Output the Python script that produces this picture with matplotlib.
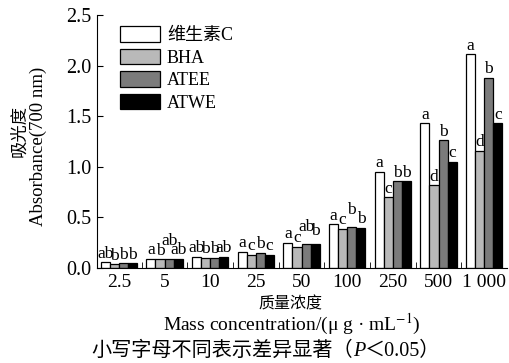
import numpy as np
import matplotlib
matplotlib.use("Agg")
import matplotlib.pyplot as plt
from matplotlib.patches import Patch

plt.rcParams['font.family'] = ['Liberation Serif', 'Noto Sans CJK SC']
plt.rcParams['mathtext.fontset'] = 'stix'

# datos
conc = ['2.5', '5', '10', '25', '50', '100', '250', '500', '1 000']
series = ['维生素C', 'BHA', 'ATEE', 'ATWE']
vitc = [0.06, 0.09, 0.11, 0.16, 0.25, 0.43, 0.95, 1.43, 2.11]
bha = [0.04, 0.085, 0.10, 0.13, 0.21, 0.39, 0.70, 0.82, 1.16]
atee = [0.05, 0.09, 0.10, 0.15, 0.24, 0.41, 0.86, 1.26, 1.88]
atwe = [0.05, 0.09, 0.11, 0.13, 0.24, 0.40, 0.86, 1.05, 1.43]
letras = [
    ['ab', 'b', 'b', 'b'],
    ['a', 'b', 'ab', 'ab'],
    ['ab', 'b', 'b', 'ab'],
    ['a', 'c', 'b', 'c'],
    ['a', 'c', 'ab', 'b'],
    ['a', 'c', 'b', 'b'],
    ['a', 'c', 'b', 'b'],
    ['a', 'd', 'b', 'c'],
    ['a', 'd', 'b', 'c'],
]

colores = ['white', '#b9b9b9', '#7b7b7b', 'black']
# desplazamiento extra de algunas letras (puntos)
extra = np.zeros((9, 4))
extra[1, 2] = 7
extra[4, 2] = 6
extra[4, 3] = 3
extra[5, 2] = 6

fig = plt.figure(figsize=(5.09, 3.63), dpi=100)
ax = fig.add_axes([97/509, 1 - 268/363, 410/509, 253/363])

x = np.arange(len(conc))
w = 0.2
valores = [vitc, bha, atee, atwe]
for i, (vals, c) in enumerate(zip(valores, colores)):
    pos = x + (i - 1.5) * w
    ax.bar(pos, vals, w, color=c, edgecolor='black', linewidth=0.9)
    for j in range(len(conc)):
        ax.annotate(letras[j][i], (pos[j], vals[j]), xytext=(0, 0.3 + extra[j, i]),
                    textcoords='offset points', ha='center', va='bottom', fontsize=12.5)

ax.set_xlim(-0.48, 8.5)
ax.set_ylim(0, 2.5)
ax.set_yticks(np.arange(0, 2.51, 0.5))
ax.set_yticklabels(['%.1f' % v for v in np.arange(0, 2.51, 0.5)], fontsize=14.5)
ax.set_xticks(x)
ax.set_xticklabels(conc, fontsize=14)
ax.set_xticks(np.arange(0.5, 8, 1), minor=True)
ax.tick_params(axis='x', which='major', length=0, pad=4)
ax.tick_params(axis='x', which='minor', direction='in', length=4)
ax.tick_params(axis='y', direction='in', length=4, pad=4)
for s in ['top', 'right']:
    ax.spines[s].set_visible(False)

handles = [Patch(facecolor=c, edgecolor='black', linewidth=0.9) for c in colores]
ax.legend(handles, series, loc='upper left', bbox_to_anchor=(0.056, 0.955),
          frameon=False, borderpad=0, borderaxespad=0, handlelength=2.2,
          handleheight=0.95, labelspacing=0.25, handletextpad=0.4, fontsize=13)

fig.text(20/509, 1 - 131/363, '吸光度', rotation=90, ha='center', va='center', fontsize=12.5)
fig.text(38/509, 1 - 146/363, 'Absorbance(700 nm)', rotation=90, ha='center', va='center', fontsize=13.5)
fig.text(290/509, 1 - 304/363, '质量浓度', ha='center', va='center', fontsize=11.5)
fig.text(292/509, 1 - 324/363, 'Mass concentration/(μ g · mL$^{-1}$)', ha='center', va='center', fontsize=14)

# nota al pie en tres partes (P en cursiva)
partes = [('小写字母不同表示差异显著（', 'normal'), ('P', 'italic'), ('＜0.05）', 'normal')]
renderer = fig.canvas.get_renderer()
textos = []
for s, estilo in partes:
    t = fig.text(0, 1 - 351/363, s, va='center', ha='left', fontsize=14.5, style=estilo)
    textos.append(t)
anchos = [t.get_window_extent(renderer).width for t in textos]
x0 = 266 - sum(anchos) / 2
for t, a in zip(textos, anchos):
    t.set_x(x0 / 509)
    x0 += a

fig.savefig('out.png', dpi=100)
